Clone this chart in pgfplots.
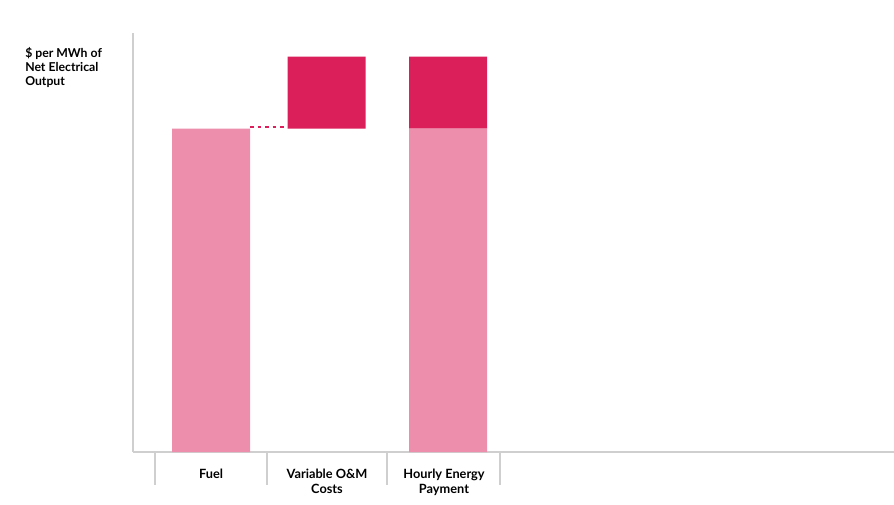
\documentclass[border=0pt]{standalone}
\usepackage{pgfplots}
\pgfplotsset{compat=1.18}
\usepackage{fontspec}
\setmainfont{Lato}
\definecolor{lightpink}{HTML}{EC8EAC}
\definecolor{darkpink}{HTML}{DA1F5B}
\definecolor{axgray}{HTML}{CFCFCF}
\begin{document}
\begin{tikzpicture}[x=0.8pt,y=0.8pt]
\useasboundingbox (0,0) rectangle (894,504);
\node[anchor=north west, align=left, font=\bfseries\fontsize{9.8}{11.3}\selectfont, inner sep=0pt] at (25,457) {\$ per MWh of\\Net Electrical\\Output};
\begin{axis}[
  at={(106.4pt,41.6pt)}, anchor=south west,
  scale only axis, width=608.8pt, height=335.2pt,
  xmin=133, xmax=894, ymin=0, ymax=58.3,
  axis x line*=bottom, axis y line*=left,
  axis line style={draw=axgray, line width=1.5pt},
  ytick=\empty,
  xtick={155,267,387,500}, xticklabels={},
  tick align=outside,
  major tick length=26pt,
  xtick style={draw=axgray, line width=1pt},
  extra x ticks={211,327,444},
  extra x tick labels={Fuel,{Variable O\&M\\Costs},{Hourly Energy\\Payment}},
  extra x tick style={major tick length=0pt, tick style={draw=none}},
  xticklabel style={font=\bfseries\fontsize{10.2}{12}\selectfont, align=center, anchor=north, yshift=-10pt},
  ybar stacked, bar width=78,
  clip=false,
]
\addplot[fill=lightpink, draw=none] coordinates {(211,45) (326.5,0) (448,45)};
\addplot[fill=none, draw=none] coordinates {(211,0) (326.5,45) (448,0)};
\addplot[fill=darkpink, draw=none] coordinates {(211,0) (326.5,10) (448,10)};
\end{axis}
\begin{axis}[
  at={(106.4pt,41.6pt)}, anchor=south west,
  scale only axis, width=608.8pt, height=335.2pt,
  xmin=133, xmax=894, ymin=0, ymax=58.3,
  axis lines=none, ticks=none,
]
\addplot[darkpink, line width=1.8pt, dash pattern=on 3pt off 3pt] coordinates {(250,45.2) (287,45.2)};
\end{axis}
\end{tikzpicture}
\end{document}
